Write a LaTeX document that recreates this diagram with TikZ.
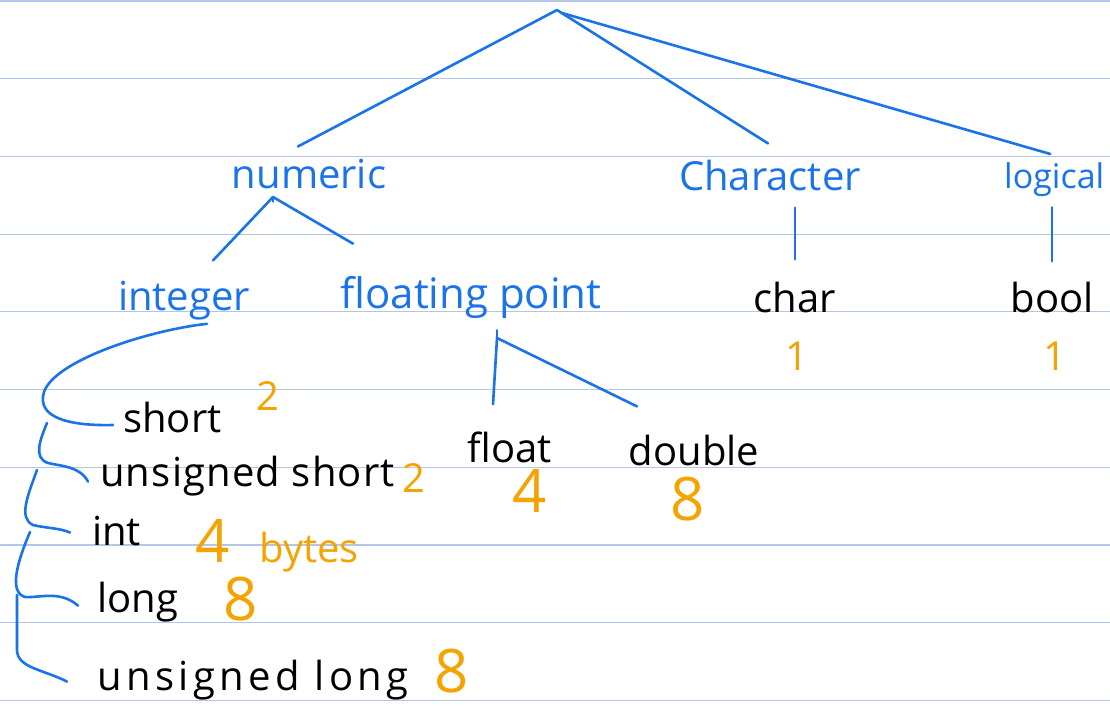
\documentclass[tikz,border=0pt]{standalone}
\usepackage{fontspec}
\setmainfont{Open Sans}
\usepackage{xcolor}
\usetikzlibrary{positioning}

\definecolor{inkblue}{HTML}{1A73E8}
\definecolor{inkorange}{HTML}{F5A300}
\definecolor{ruleblue}{HTML}{B4C6E4}

\begin{document}
\begin{tikzpicture}[
    x=1pt, y=-1pt,
    txt/.style={inner sep=4pt, font=\fontsize{40}{46}\selectfont},
    cat/.style={txt, text=inkblue},
    kind/.style={txt, text=black},
    size/.style={txt, text=inkorange},
    bigsize/.style={size, font=\fontsize{60}{66}\selectfont},
    branch/.style={draw=inkblue, line width=2.6pt, line cap=round, line join=round}
]

% Page and ruled lines
\clip (0,0) rectangle (1110,716);
\fill[white] (0,0) rectangle (1110,716);
\foreach \k in {0,...,9}
    \draw[ruleblue, line width=1.2pt] (0,{1+77.7*\k}) -- (1110,{1+77.7*\k});

% Root of the tree
\coordinate (root) at (557,10);

% Categories
\node[cat, anchor=base] (numeric) at (309,188) {numeric};
\node[cat, anchor=base] (character) at (770,190) {Character};
\node[cat, anchor=base west, font=\fontsize{34}{40}\selectfont] (logical) at (1000,188) {logical};

% Numeric kinds
\coordinate (numfork) at (273,197);
\node[cat, anchor=base] (integer) at (184,310) {integer};
\node[cat, anchor=base, font=\fontsize{42}{48}\selectfont] (floating) at (471,308) {floating point};

% Character and logical kinds
\node[kind, anchor=base] (char) at (795,312) {char};
\node[kind, anchor=base] (bool) at (1052,312) {bool};
\node[size, anchor=base] (charsize) at (797,370) {1};
\node[size, anchor=base] (boolsize) at (1055,370) {1};

% Floating point kinds
\coordinate (floatfork) at (497,338);
\node[kind, anchor=base] (float) at (510,462) {float};
\node[kind, anchor=base] (double) at (694,465) {double};
\node[bigsize, anchor=base] (floatsize) at (530,512) {4};
\node[bigsize, anchor=base] (doublesize) at (688,520) {8};

% Integer kinds
\node[kind, anchor=base west] (short) at (119,432) {short};
\node[kind, anchor=base west] (ushort) at (96,486) {\addfontfeature{LetterSpace=3}unsigned short};
\node[kind, anchor=base west] (int) at (88,545) {int};
\node[kind, anchor=base west] (long) at (93,612) {long};
\node[kind, anchor=base west] (ulong) at (93,690) {\addfontfeature{LetterSpace=11}unsigned long};

% Sizes
\node[size, anchor=base] (shortsize) at (268,410) {2};
\node[size, anchor=base] (ushortsize) at (414,492) {2};
\node[size, anchor=base west] (intsize) at (191,562) {{\fontsize{60}{66}\selectfont 4}\hspace{0.75em}bytes};
\node[bigsize, anchor=base] (longsize) at (241,620) {8};
\node[bigsize, anchor=base] (ulongsize) at (452,692) {8};

% Tree branches
\draw[branch] (root) -- ([xshift=-11pt,yshift=8pt]numeric.north);
\draw[branch] (root) -- ([xshift=-2pt,yshift=12pt]character.north);
\draw[branch] ([xshift=5pt,yshift=-3pt]root) -- ([xshift=-4pt,yshift=4pt]logical.north);

\draw[branch] (numfork) -- ([xshift=29pt,yshift=16pt]integer.north);
\draw[branch] (numfork) -- ([xshift=-118pt,yshift=28pt]floating.north);
\draw[branch] (numfork) -- ([xshift=-36pt,yshift=-9pt]numeric.south);

\draw[branch, shorten <=13pt, shorten >=18pt] (character.south -| char.north) -- (char.north);
\draw[branch, shorten <=7pt, shorten >=16pt] (logical.south -| bool.north) -- (bool.north);

\draw[branch] (floatfork) -- ([xshift=-17pt,yshift=23pt]float.north);
\draw[branch] (floatfork) -- ([xshift=-57pt,yshift=24pt]double.north);
\draw[branch] (floatfork) -- ([xshift=26pt,yshift=-8pt]floating.south);

% Integer brace
\coordinate (b1) at (47,423);
\coordinate (b2) at (37,470);
\coordinate (b3) at (30,532);
\coordinate (b4) at (17,595);
\draw[branch] ([xshift=23pt]integer.south) .. controls (150,330) and (55,360) .. (44,392)
    .. controls (36,418) and (70,426) .. ([xshift=-6pt,yshift=-8pt]short.west);
\draw[branch] (b1) .. controls (40,440) and (33,458) .. (48,463)
    .. controls (60,466) and (80,466) .. ([xshift=-8pt,yshift=-6pt]ushort.west);
\draw[branch] (b2) .. controls (28,495) and (18,518) .. (33,525)
    .. controls (45,528) and (60,528) .. ([xshift=-18pt,yshift=-2pt]int.west);
\draw[branch] (b3) .. controls (18,560) and (8,592) .. (25,597)
    .. controls (40,598) and (60,590) .. ([xshift=-15pt,yshift=-4pt]long.west);
\draw[branch] (b4) -- (17,650)
    .. controls (17,668) and (45,670) .. ([xshift=-26pt,yshift=-2pt]ulong.west);

\end{tikzpicture}
\end{document}
